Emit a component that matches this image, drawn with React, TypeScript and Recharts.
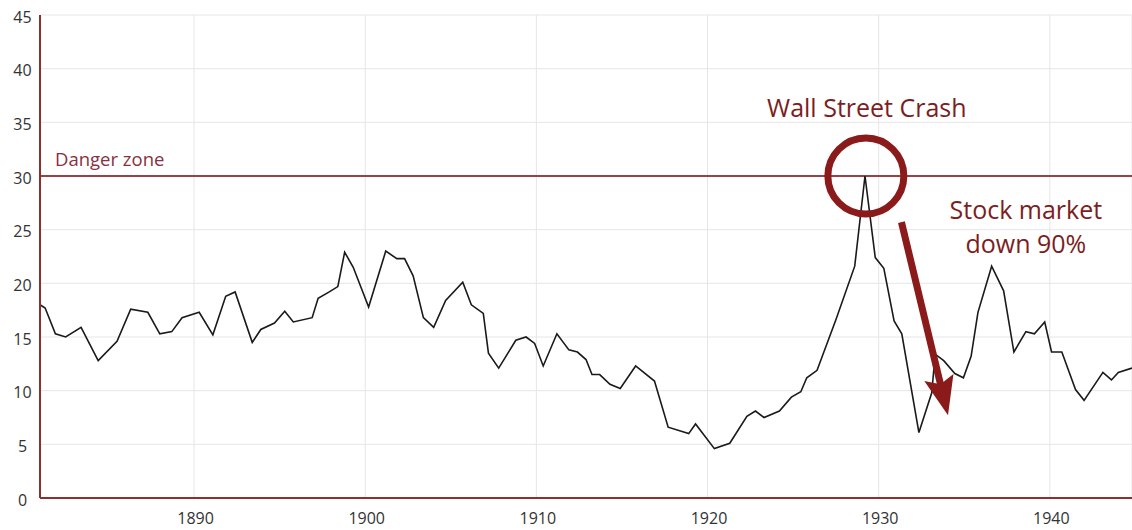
import {
  LineChart,
  Line,
  XAxis,
  YAxis,
  CartesianGrid,
  ReferenceLine,
  ReferenceDot,
} from 'recharts';

// Shiller-style P/E ratio
const years = [
  1881.0, 1881.3, 1881.9, 1882.5, 1883.4, 1884.4, 1885.5, 1886.3, 1887.3, 1888.0,
  1888.7, 1889.3, 1890.3, 1891.1, 1891.85, 1892.4, 1893.4, 1893.9, 1894.7, 1895.3,
  1895.8, 1896.9, 1897.25, 1897.9, 1898.4, 1898.8, 1899.3, 1900.2, 1901.2, 1901.85,
  1902.3, 1902.8, 1903.4, 1904.0, 1904.7, 1905.7, 1906.2, 1906.9, 1907.2, 1907.8,
  1908.8, 1909.4, 1909.9, 1910.4, 1911.2, 1911.9, 1912.4, 1912.9, 1913.25, 1913.7,
  1914.3, 1914.9, 1915.8, 1916.9, 1917.7, 1918.9, 1919.3, 1920.4, 1921.3, 1922.3,
  1922.8, 1923.3, 1924.2, 1924.9, 1925.45, 1925.8, 1926.4, 1927.5, 1928.6, 1929.2,
  1929.8, 1930.3, 1930.9, 1931.35, 1932.35, 1933.1, 1933.3, 1933.8, 1934.45, 1934.95,
  1935.4, 1935.8, 1936.6, 1937.3, 1937.9, 1938.6, 1939.1, 1939.7, 1940.1, 1940.7,
  1941.5, 1942.0, 1943.1, 1943.6, 1944.0, 1944.8,
];

const peRatio = [
  18.0, 17.7, 15.3, 15.0, 15.9, 12.8, 14.6, 17.6, 17.3, 15.3,
  15.5, 16.8, 17.3, 15.2, 18.8, 19.2, 14.5, 15.7, 16.3, 17.4,
  16.4, 16.8, 18.6, 19.2, 19.7, 22.9, 21.5, 17.8, 23.0, 22.3,
  22.3, 20.7, 16.8, 15.9, 18.4, 20.1, 18.0, 17.2, 13.5, 12.1,
  14.7, 15.0, 14.4, 12.3, 15.3, 13.8, 13.6, 12.9, 11.5, 11.5,
  10.6, 10.2, 12.3, 10.9, 6.6, 6.0, 6.9, 4.6, 5.1, 7.6,
  8.1, 7.5, 8.1, 9.4, 9.9, 11.2, 11.9, 16.6, 21.6, 30.0,
  22.4, 21.4, 16.5, 15.3, 6.1, 9.8, 13.4, 12.8, 11.6, 11.2,
  13.2, 17.3, 21.6, 19.3, 13.6, 15.5, 15.3, 16.4, 13.6, 13.6,
  10.1, 9.1, 11.7, 11.0, 11.7, 12.1,
];

const xTicks = [1890, 1900, 1910, 1920, 1930, 1940];
const yTicks = [0, 5, 10, 15, 20, 25, 30, 35, 40, 45];

const DANGER_LEVEL = 30;
const crashPeak = { year: 1929.25, value: 30 };
const arrowFrom = { year: 1931.33, value: 25.7 };
const arrowTo = { year: 1934.05, value: 7.7 };
const noteAnchor = { year: 1938.6, value: 26 };

const RED = '#8b1a1a';
const AXIS_RED = '#8b2f2f';
const FONT = '"Open Sans", sans-serif';

const data = years.map((year, i) => ({ year, pe: peRatio[i] }));

function XTick({ x, y, payload }: any) {
  return (
    <text x={x + 1.5} y={y} textAnchor="middle" fontSize={16} fill="#333" fontFamily={FONT}>
      {payload.value}
    </text>
  );
}

function YTick({ x, y, payload }: any) {
  return (
    <text x={x} y={y} dy={7.7} textAnchor="middle" fontSize={16} fill="#333" fontFamily={FONT}>
      {payload.value}
    </text>
  );
}

function Arrow({ x1, y1, x2, y2 }: any) {
  const dx = x2 - x1;
  const dy = y2 - y1;
  const len = Math.hypot(dx, dy);
  const ux = dx / len;
  const uy = dy / len;
  const head = 35;
  const half = 15;
  const bx = x2 - ux * head;
  const by = y2 - uy * head;
  const px = -uy;
  const py = ux;
  const back = 4;
  return (
    <g>
      <line x1={x1} y1={y1} x2={bx + ux * 4} y2={by + uy * 4} stroke={RED} strokeWidth={7} />
      <polygon
        points={`${x2},${y2} ${bx + px * half - ux * back},${by + py * half - uy * back} ${bx + ux * 3},${by + uy * 3} ${bx - px * half - ux * back},${by - py * half - uy * back}`}
        fill={RED}
      />
    </g>
  );
}

export default function App() {
  return (
    <div style={{ position: 'absolute', left: 0, top: 0, fontFamily: FONT }}>
      <LineChart width={1132} height={530} data={data} margin={{ top: 15, right: 0, bottom: 0, left: 0 }}>
        <CartesianGrid stroke="#e6e6e6" strokeWidth={1} />
        <XAxis
          dataKey="year"
          type="number"
          domain={[1881, 1944.8]}
          ticks={xTicks}
          allowDataOverflow
          height={32}
          tickSize={0}
          tickMargin={26}
          tick={<XTick />}
          axisLine={{ stroke: AXIS_RED, strokeWidth: 2 }}
        />
        <YAxis
          type="number"
          domain={[0, 45]}
          ticks={yTicks}
          width={40}
          tickSize={0}
          tickMargin={17.5}
          tick={<YTick />}
          axisLine={{ stroke: AXIS_RED, strokeWidth: 2 }}
        />
        <ReferenceLine
          y={DANGER_LEVEL}
          stroke="#9c3f46"
          strokeWidth={2}
          label={({ viewBox }: any) => (
            <text x={viewBox.x + 15} y={viewBox.y - 10} fontSize={18.5} fill="#8a3040" fontFamily={FONT}>
              Danger zone
            </text>
          )}
        />
        <Line
          type="linear"
          dataKey="pe"
          stroke="#1a1a1a"
          strokeWidth={1.6}
          dot={false}
          isAnimationActive={false}
        />
        <ReferenceDot
          x={crashPeak.year}
          y={crashPeak.value}
          r={38}
          fill="none"
          stroke={RED}
          strokeWidth={7}
          label={({ viewBox }: any) => {
            const cx = viewBox.x + viewBox.width / 2;
            const cy = viewBox.y + viewBox.height / 2;
            return (
              <text x={cx + 1} y={cy - 59} textAnchor="middle" fontSize={25} fill="#7b1e22" fontFamily={FONT}>
                Wall Street Crash
              </text>
            );
          }}
        />
        <ReferenceLine
          segment={[
            { x: arrowFrom.year, y: arrowFrom.value },
            { x: arrowTo.year, y: arrowTo.value },
          ]}
          shape={<Arrow />}
        />
        <ReferenceDot
          x={noteAnchor.year}
          y={noteAnchor.value}
          r={0}
          fill="none"
          stroke="none"
          label={({ viewBox }: any) => {
            const cx = viewBox.x + viewBox.width / 2;
            const cy = viewBox.y + viewBox.height / 2;
            return (
              <text textAnchor="middle" fontSize={25} fill="#7b1e22" fontFamily={FONT}>
                <tspan x={cx} y={cy}>Stock market</tspan>
                <tspan x={cx} y={cy + 34}>down 90%</tspan>
              </text>
            );
          }}
        />
      </LineChart>
    </div>
  );
}
